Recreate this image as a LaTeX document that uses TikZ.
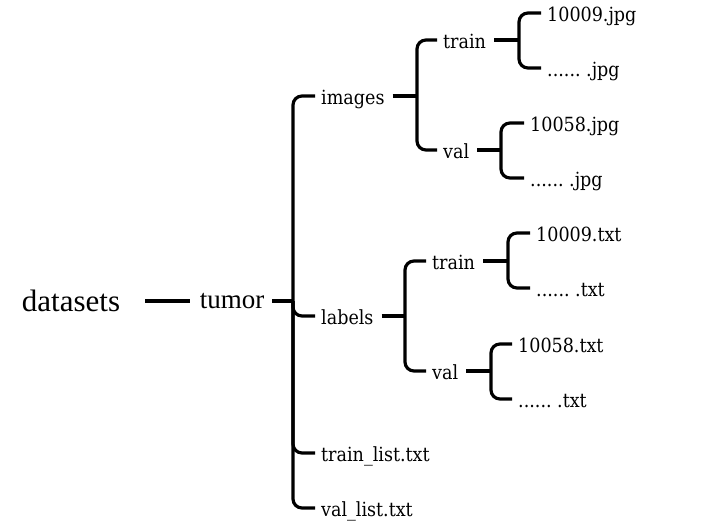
\documentclass[tikz,border=0pt]{standalone}
\usepackage{fontspec}
\setmainfont{DejaVu Serif Condensed}
\newfontfamily\rootfont{Liberation Serif}
\usetikzlibrary{positioning}

\tikzset{
  entry/.style={anchor=west, inner xsep=0pt, inner ysep=0pt,
    text height=18pt, text depth=2pt, font=\fontsize{19.5}{22}\selectfont},
  rootnode/.style={inner sep=0pt, font=\rootfont},
  stub/.style={line width=3.2pt, shorten <=8pt},
  branch/.style={line width=3.2pt, rounded corners=9pt, shorten <=6pt, shorten >=6pt},
  midbranch/.style={line width=3.2pt, rounded corners=9pt, shorten <=6pt},
  rootlink/.style={line width=4.5pt},
}

\begin{document}
\frenchspacing
\begin{tikzpicture}[x=1pt, y=-1pt]
    \useasboundingbox (0,0) rectangle (706,528);

    % Raiz
    \node[rootnode, font=\rootfont\fontsize{31}{34}\selectfont] (datasets) at (71,301) {datasets};
    \node[rootnode, font=\rootfont\fontsize{27}{30}\selectfont] (tumor) at (232,301) {tumor};

    % Primer nivel
    \node[entry] (images) at (321,96) {images};
    \node[entry] (labels) at (321,316) {labels};
    \node[entry] (trainlist) at (321,453) {train\_list.txt};
    \node[entry] (vallist) at (321,508) {val\_list.txt};

    % Segundo nivel
    \node[entry] (imgtrain) at (443,40) {train};
    \node[entry] (imgval) at (443,150) {val};
    \node[entry] (labtrain) at (432,261) {train};
    \node[entry] (labval) at (432,371) {val};

    % Archivos
    \node[entry] (imgtrainA) at (547,13) {10009.jpg};
    \node[entry] (imgtrainB) at (547,68) {...... .jpg};
    \node[entry] (imgvalA) at (530,123) {10058.jpg};
    \node[entry] (imgvalB) at (530,178) {...... .jpg};
    \node[entry] (labtrainA) at (536,233) {10009.txt};
    \node[entry] (labtrainB) at (536,288) {...... .txt};
    \node[entry] (labvalA) at (518,344) {10058.txt};
    \node[entry] (labvalB) at (518,399) {...... .txt};

    % Uniones
    \coordinate (jT) at (293,301);
    \coordinate (jI) at (417,96);
    \coordinate (jIT) at (519,40);
    \coordinate (jIV) at (501,150);
    \coordinate (jL) at (405,316);
    \coordinate (jLT) at (508,261);
    \coordinate (jLV) at (491,371);

    % Conectores
    \draw[rootlink, shorten <=25pt, shorten >=10pt] (datasets) -- (tumor);
    \draw[stub] (tumor) -- (jT);
    \draw[branch] (images) -| (jT) |- (vallist);
    \draw[midbranch] (labels) -| (jT);
    \draw[midbranch] (trainlist) -| (jT);

    \draw[stub] (images) -- (jI);
    \draw[branch] (imgtrain) -| (jI) |- (imgval);
    \draw[stub] (imgtrain) -- (jIT);
    \draw[branch] (imgtrainA) -| (jIT) |- (imgtrainB);
    \draw[stub] (imgval) -- (jIV);
    \draw[branch] (imgvalA) -| (jIV) |- (imgvalB);

    \draw[stub] (labels) -- (jL);
    \draw[branch] (labtrain) -| (jL) |- (labval);
    \draw[stub] (labtrain) -- (jLT);
    \draw[branch] (labtrainA) -| (jLT) |- (labtrainB);
    \draw[stub] (labval) -- (jLV);
    \draw[branch] (labvalA) -| (jLV) |- (labvalB);
\end{tikzpicture}
\end{document}
